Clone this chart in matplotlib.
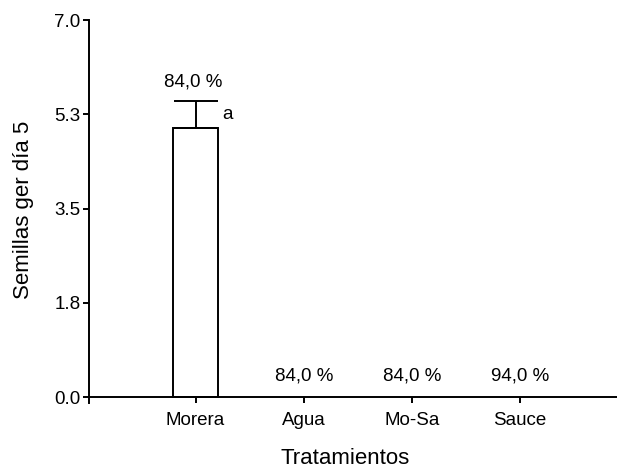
import matplotlib
matplotlib.use("Agg")
import matplotlib.pyplot as plt
import numpy as np

categories = ['Morera', 'Agua', 'Mo-Sa', 'Sauce']
means = [5.0, 0.0, 0.0, 0.0]
errors = [0.5, 0.0, 0.0, 0.0]
pct_labels = ['84,0 %', '84,0 %', '84,0 %', '94,0 %']
letters = ['a', '', '', '']
yticks = [0.0, 1.75, 3.5, 5.25, 7.0]
ytick_labels = ['0.0', '1.8', '3.5', '5.3', '7.0']

plt.rcParams['font.family'] = ['Liberation Sans', 'DejaVu Sans']

fig = plt.figure(figsize=(6.17, 4.70), dpi=100)
ax = fig.add_axes([89/617, (470-403)/470, 1 - 89/617, (403-20)/470])

x = np.arange(len(categories))
lw = 1.4
for xi, m, e in zip(x, means, errors):
    if m > 0:
        ax.bar(xi, m, width=0.41, facecolor='white', edgecolor='black', linewidth=lw, zorder=2)
        ax.errorbar(xi, m, yerr=[[0], [e]], fmt='none', ecolor='black', elinewidth=lw,
                    capsize=15.8, capthick=lw, zorder=3)

fs = 13.5
for xi, m, e, lab, let in zip(x, means, errors, pct_labels, letters):
    top = m + e
    ax.annotate(lab, (xi, top), xytext=(-2 if m > 0 else 0, 13.5 if m > 0 else 15), textcoords='offset points',
                ha='center', va='center', fontsize=fs)
    if let:
        ax.annotate(let, (xi, m + e / 2), xytext=(19, 0), textcoords='offset points',
                    ha='left', va='center', fontsize=fs)

ax.set_xlim(-0.985, 3.895)
ax.set_ylim(-0.11, 7.0)
ax.spines['bottom'].set_position(('data', 0))
ax.spines['top'].set_visible(False)
ax.spines['right'].set_visible(False)
ax.spines['left'].set_linewidth(lw)
ax.spines['bottom'].set_linewidth(lw)
ax.spines['left'].set_bounds(-0.11, 7.0)

ax.set_xticks(x)
ax.set_xticklabels(categories, fontsize=fs)
ax.set_yticks(yticks)
ax.set_yticklabels(ytick_labels, fontsize=fs)
ax.tick_params(axis='both', direction='out', length=4.5, width=lw, pad=1.5)
ax.tick_params(axis='x', pad=6.5)

ax.set_xlabel('Tratamientos', fontsize=16, va='center')
ax.set_ylabel('Semillas ger día 5', fontsize=16, va='center')
ax.xaxis.set_label_coords((345-89)/(617-89), -(458-403)/(403-20))
ax.yaxis.set_label_coords(-(89-24)/(617-89), (403-210)/(403-20))

fig.savefig('out.png', dpi=100)
